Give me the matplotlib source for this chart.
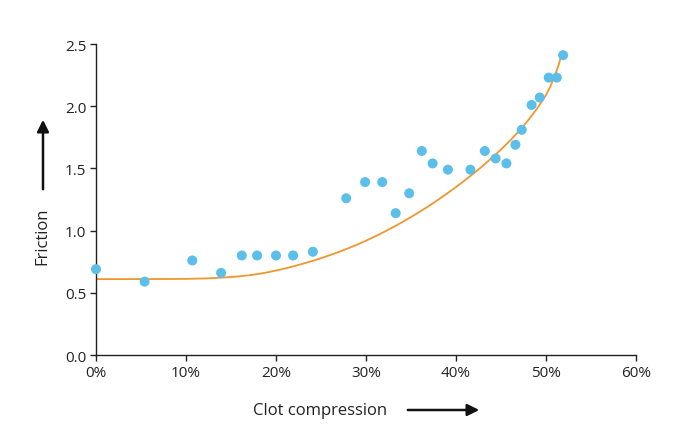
import matplotlib
matplotlib.use("Agg")
import matplotlib.pyplot as plt
from matplotlib.ticker import FuncFormatter

# Data points (clot compression %, friction)
compression = [0.0, 5.4, 10.7, 13.9, 16.2, 17.9, 20.0, 21.9, 24.1, 27.8,
               29.9, 31.8, 33.3, 34.8, 36.2, 37.4, 39.1, 41.6, 43.2, 44.4,
               45.6, 46.6, 47.3, 48.4, 49.3, 50.3, 51.2, 51.9]
friction = [0.69, 0.59, 0.76, 0.66, 0.80, 0.80, 0.80, 0.80, 0.83, 1.26,
            1.39, 1.39, 1.14, 1.30, 1.64, 1.54, 1.49, 1.49, 1.64, 1.58,
            1.54, 1.69, 1.81, 2.01, 2.07, 2.23, 2.23, 2.41]

# Fitted trend curve
fit_x = [0, 4, 8, 10, 12, 13, 14, 15, 16, 17, 18, 19, 20, 21, 22, 23, 24, 25,
         26, 27, 28, 29, 30, 31, 32, 33, 34, 35, 36, 37, 38, 39, 40, 41, 42,
         43, 44, 45, 46, 47, 48, 49, 50, 50.5, 51, 51.4, 51.7]
fit_y = [0.610, 0.610, 0.611, 0.612, 0.615, 0.618, 0.622, 0.627, 0.633, 0.641,
         0.651, 0.664, 0.679, 0.696, 0.714, 0.734, 0.755, 0.778, 0.803, 0.829,
         0.857, 0.887, 0.919, 0.953, 0.989, 1.027, 1.067, 1.109, 1.153, 1.199,
         1.247, 1.298, 1.350, 1.405, 1.462, 1.522, 1.585, 1.652, 1.723, 1.800,
         1.885, 1.980, 2.090, 2.160, 2.250, 2.330, 2.410]

x_ticks = [0, 10, 20, 30, 40, 50, 60]
y_ticks = [0.0, 0.5, 1.0, 1.5, 2.0, 2.5]

plt.rcParams['font.family'] = ['Open Sans', 'DejaVu Sans']

fig = plt.figure(figsize=(6.88, 4.35), dpi=100)
ax = fig.add_axes([96/688, 1-356/435, (636-96)/688, (356-45)/435])

ax.plot(fit_x, fit_y, color='#f0962e', lw=1.3, zorder=2)
ax.scatter(compression, friction, s=52, color='#5bbfea', edgecolors='none', zorder=3, clip_on=False)

ax.set_xlim(0, 60)
ax.set_ylim(0, 2.5)
ax.set_xticks(x_ticks)
ax.set_yticks(y_ticks)
ax.xaxis.set_major_formatter(FuncFormatter(lambda v, p: f"{int(v)}%"))
ax.yaxis.set_major_formatter(FuncFormatter(lambda v, p: f"{v:.1f}"))
for s in ['top', 'right']:
    ax.spines[s].set_visible(False)
for s in ['left', 'bottom']:
    ax.spines[s].set_color('#222222')
    ax.spines[s].set_linewidth(1.0)
ax.tick_params(direction='out', length=4, width=1.0, color='#222222',
               labelsize=11, labelcolor='#222222', pad=3)

# Axis labels with arrows
fig.text(253/688, 1-411/435, "Clot compression", fontsize=12, color='#222222',
         ha='left', va='center')
fig.add_artist(matplotlib.patches.FancyArrowPatch(
    (405/688, 1-411/435), (482/688, 1-411/435), transform=fig.transFigure,
    arrowstyle='-|>,head_length=7,head_width=3.5', lw=1.8, color='#111111'))

fig.text(42/688, 1-236/435, "Friction", fontsize=12, color='#222222',
         rotation=90, ha='center', va='center')
fig.add_artist(matplotlib.patches.FancyArrowPatch(
    (43/688, 1-193/435), (43/688, 1-118/435), transform=fig.transFigure,
    arrowstyle='-|>,head_length=7,head_width=3.5', lw=1.8, color='#111111'))

fig.savefig("out.png", dpi=100)
